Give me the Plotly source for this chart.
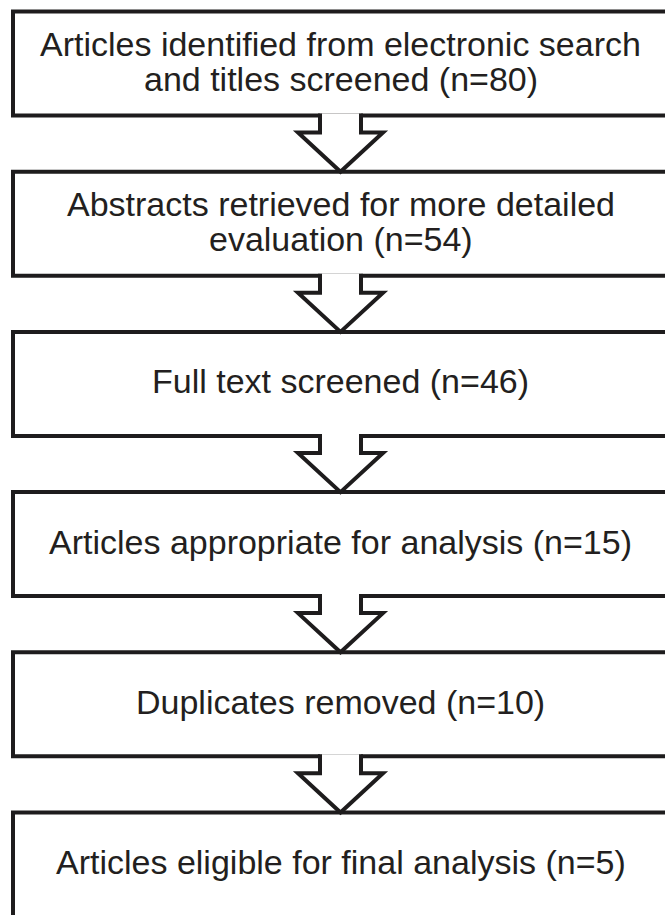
import plotly.graph_objects as go

# Data
stage_labels = [
    ["Articles identified from electronic search", "and titles screened"],
    ["Abstracts retrieved for more detailed", "evaluation"],
    ["Full text screened"],
    ["Articles appropriate for analysis"],
    ["Duplicates removed"],
    ["Articles eligible for final analysis"],
]
stage_counts = [80, 54, 46, 15, 10, 5]

# Layout constants (pixels)
W, H = 665, 915
BOX_LEFT, BOX_RIGHT = 13, 668
FIRST_TOP, STEP, BOX_H = 11.5, 160.2, 104
CX = 340.5
LINE = "#1e1c1d"
LW = 4
FONT = dict(family="Liberation Sans, Arial", size=34, color="#231f20")
LINE_GAP = 35
TEXT_SHIFT = -2.5

fig = go.Figure()
shapes = []
annotations = []
n = len(stage_labels)
for i, (lines, cnt) in enumerate(zip(stage_labels, stage_counts)):
    top = FIRST_TOP + STEP * i
    bot = top + BOX_H if i < n - 1 else H + 20
    shapes.append(dict(type="rect", xref="x", yref="y", x0=BOX_LEFT, x1=BOX_RIGHT,
                       y0=top, y1=bot, line=dict(color=LINE, width=LW),
                       fillcolor="white", layer="above"))
    texts = list(lines)
    texts[-1] = f"{texts[-1]} (n={cnt})"
    k = len(texts)
    cy = top + BOX_H / 2 + TEXT_SHIFT
    for j, t in enumerate(texts):
        y = cy + (j - (k - 1) / 2) * LINE_GAP
        annotations.append(dict(x=CX, y=y, xref="x", yref="y", text=t, showarrow=False,
                                font=FONT, xanchor="center", yanchor="middle"))

for i in range(n - 1):
    bot = FIRST_TOP + STEP * i + BOX_H
    nxt = FIRST_TOP + STEP * (i + 1)
    ys = bot - 2
    yb = bot + 17
    path = (f"M {CX-20.5},{ys} L {CX-20.5},{yb} L {CX-42.5},{yb} L {CX},{nxt} "
            f"L {CX+42.5},{yb} L {CX+20.5},{yb} L {CX+20.5},{ys}")
    shapes.append(dict(type="path", xref="x", yref="y", path=path,
                       fillcolor="white", line=dict(color=LINE, width=LW), layer="above"))

fig.update_layout(
    width=W, height=H,
    margin=dict(l=0, r=0, t=0, b=0),
    paper_bgcolor="white", plot_bgcolor="white",
    xaxis=dict(range=[0, W], visible=False, fixedrange=True),
    yaxis=dict(range=[H, 0], visible=False, fixedrange=True),
    shapes=shapes, annotations=annotations, showlegend=False,
)
fig.write_html("out.html", config={"displayModeBar": False},
               post_script="document.body.style.margin='0';document.body.style.overflow='hidden';")
